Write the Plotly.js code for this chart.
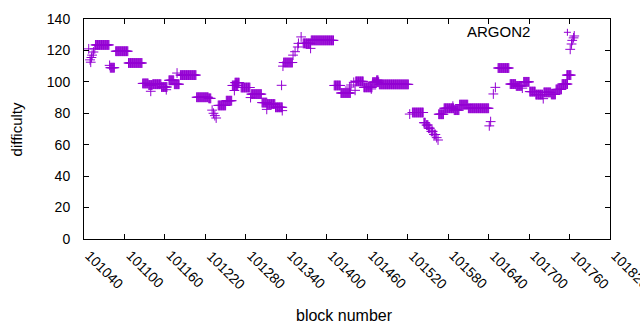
<!DOCTYPE html>
<html>
<head>
<meta charset="utf-8">
<script src="https://cdn.plot.ly/plotly-3.0.1.min.js"></script>
<style>
  html, body { margin: 0; padding: 0; background: #fff; }
  #chart { width: 640px; height: 330px; }
</style>
</head>
<body>
<div id="chart"></div>
<script>
// Runs of consecutive blocks sharing the same difficulty (start block, end block, value)
const runStart = [101047,101049,101050,101051,101052,101054,101056,101057,101078,101079,101087,101106,101127,101136,101139,101142,101155,101162,101166,101174,101178,101183,101207,101225,101230,101232,101234,101236,101239,101251,101260,101263,101264,101273,101287,101288,101304,101311,101312,101324,101333,101334,101335,101336,101350,101353,101357,101358,101362,101365,101376,101377,101411,101421,101434,101436,101440,101442,101443,101455,101466,101468,101474,101478,101523,101527,101544,101548,101551,101555,101559,101563,101565,101566,101574,101587,101589,101597,101610,101641,101643,101647,101650,101654,101672,101681,101690,101692,101701,101710,101721,101722,101733,101740,101749,101756,101761,101763,101764,101766,101767];
const runEnd   = [101047,101049,101050,101051,101052,101054,101056,101077,101078,101085,101105,101126,101135,101141,101139,101154,101163,101162,101173,101181,101178,101206,101224,101228,101230,101232,101234,101236,101250,101259,101268,101263,101270,101286,101287,101303,101311,101311,101323,101334,101333,101334,101335,101349,101350,101353,101357,101358,101362,101376,101376,101410,101420,101435,101434,101436,101440,101442,101454,101467,101466,101477,101476,101521,101523,101543,101546,101550,101553,101557,101561,101563,101565,101573,101588,101587,101596,101609,101640,101641,101643,101647,101650,101670,101680,101689,101690,101700,101709,101720,101721,101732,101739,101748,101757,101762,101761,101763,101764,101766,101767];
const runValue = [121,114,112.5,115.5,117,119,121,123.5,110.5,109,119.5,112,99,98,94,98.5,96.7,95,101,98.5,105.6,104.3,90.2,89.5,82,80,78.5,77,85,88,97.7,94.5,99.5,96.4,90,92.2,86.8,82.5,85.9,83.8,97.8,81.7,110,112.3,117,119.2,122.2,124.5,128.6,124.5,121.3,126.4,97.7,92.9,96.7,98,99.7,94.6,100.3,96.5,95.5,99.8,101,98.4,79.5,80.5,74,72.5,70.5,68.5,66.5,64.5,63,79.4,83.2,84.5,82,85.5,83.2,72,74.7,92.3,96.5,108.8,98.6,97.4,96,100,93.8,91.9,89.3,93.3,92,95.2,98.6,104.3,120.7,124.1,126.4,128,129.2];

const seriesName = 'ARGON2';
const xTitle = 'block number';
const yTitle = 'difficulty';
const xTickVals = [101040,101100,101160,101220,101280,101340,101400,101460,101520,101580,101640,101700,101760,101820];
const xTickText = xTickVals.map(String);
const yTickVals = [0,20,40,60,80,100,120,140];

// decode runs into one point per block
const xs = [], ys = [];
for (let i = 0; i < runStart.length; i++) {
  for (let b = runStart[i]; b <= runEnd[i]; b++) { xs.push(b); ys.push(runValue[i]); }
}

const purple = '#9400d3';
const font = 'Liberation Sans, Arial, sans-serif';

const trace = {
  x: xs, y: ys, type: 'scatter', mode: 'markers', name: seriesName, showlegend: false,
  cliponaxis: true,
  marker: { symbol: 'cross-thin', size: 7, color: purple, line: { color: purple, width: 1 } }
};

// rotated x tick labels (gnuplot style: text starts at the tick and runs down-right)
const tickAnn = xTickVals.map((v, i) => ({
  text: xTickText[i], xref: 'x', yref: 'paper', x: v, y: -11/220, xshift: -3, yshift: 4,
  xanchor: 'left', yanchor: 'top', textangle: 45, showarrow: false, borderpad: 0,
  font: { family: font, size: 14, color: '#000' }
}));

// key sample position (paper coords)
const kx = 0.919, ky = 0.9395, kdx = 3.5/525, kdy = 3.5/220;

const layout = {
  width: 640, height: 330,
  margin: { l: 84, r: 30, t: 19, b: 91, pad: 0 },
  paper_bgcolor: '#fff', plot_bgcolor: '#fff',
  font: { family: font, size: 14, color: '#000' },
  xaxis: {
    range: [101040, 101820], tickmode: 'array', tickvals: xTickVals, showticklabels: false,
    ticks: 'inside', ticklen: 5, tickcolor: '#000', mirror: 'ticks',
    showline: true, linecolor: '#000', linewidth: 1, showgrid: false, zeroline: false
  },
  yaxis: {
    range: [0, 140], tickmode: 'array', tickvals: yTickVals,
    ticks: 'inside', ticklen: 5, tickcolor: '#000', mirror: 'ticks',
    showline: true, linecolor: '#000', linewidth: 1, showgrid: false, zeroline: false,
    tickfont: { family: font, size: 14, color: '#000' }, ticklabelstandoff: 10
  },
  annotations: tickAnn.concat([
    { text: seriesName, xref: 'paper', yref: 'paper', x: 0.8523, y: 0.943,
      xanchor: 'right', yanchor: 'middle', showarrow: false,
      font: { family: font, size: 15, color: '#000' } },
    { text: xTitle, xref: 'paper', yref: 'paper', x: (344-84)/525.3, y: -76/220,
      xanchor: 'center', yanchor: 'middle', showarrow: false,
      font: { family: font, size: 16, color: '#000' } },
    { text: yTitle, xref: 'paper', yref: 'paper', x: (16.5-84)/525.3, y: 0.5,
      xanchor: 'center', yanchor: 'middle', textangle: -90, showarrow: false,
      font: { family: font, size: 15, color: '#000' } }
  ]),
  shapes: [
    { type: 'line', xref: 'paper', yref: 'paper', x0: kx - kdx, x1: kx + kdx, y0: ky, y1: ky, line: { color: purple, width: 1 } },
    { type: 'line', xref: 'paper', yref: 'paper', x0: kx, x1: kx, y0: ky - kdy, y1: ky + kdy, line: { color: purple, width: 1 } }
  ]
};

Plotly.newPlot('chart', [trace], layout, { displayModeBar: false, staticPlot: true });
</script>
</body>
</html>
